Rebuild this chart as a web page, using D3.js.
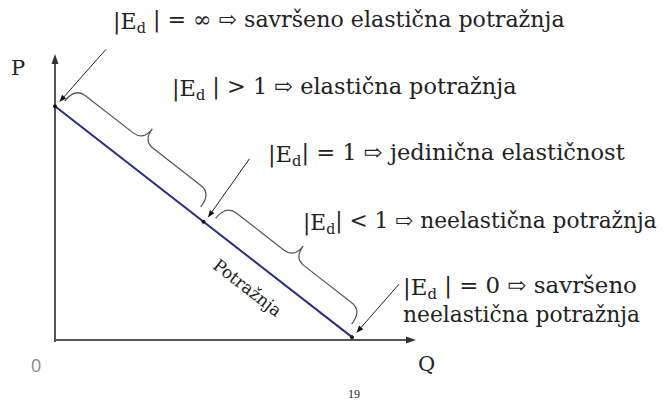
<!DOCTYPE html>
<html>
<head>
<meta charset="utf-8">
<script src="https://cdn.jsdelivr.net/npm/d3@7"></script>
<style>
  body { margin: 0; background: #fff; }
  text { font-family: "DejaVu Serif", serif; fill: #222; }
</style>
</head>
<body>
<svg id="chart"></svg>
<script>
// demand curve (Q, P)
const demandQ = [0, 82.5];
const demandP = [82, 1];

// key points along the demand line (fraction of its length)
const keyPoints = [0, 0.5, 1];
// braces along the demand line
const braceRanges = [[0.012, 0.47], [0.52, 0.978]];

// elasticity labels: "|E" + subscript + rest
const labelSub = ["d", "d", "d", "d", "d"];
const labelRest = [
  " | = ∞ ⇨ savršeno elastična potražnja",
  " | > 1 ⇨ elastična potražnja",
  "| = 1 ⇨ jedinična elastičnost",
  "| < 1 ⇨ neelastična potražnja",
  " | = 0 ⇨ savršeno"
];
const extraLine = "neelastična potražnja";
const curveLabel = "Potražnja";
const axisNames = ["P", "Q", "0"];
const pageNumber = "19";

const width = 670, height = 402;

const svg = d3.select("#chart")
  .attr("width", width)
  .attr("height", height);

const x = d3.scaleLinear().domain([0, 100]).range([55, 415]);
const y = d3.scaleLinear().domain([0, 100]).range([340, 55]);

// arrow head for the pointers
svg.append("defs").append("marker")
  .attr("id", "pointer")
  .attr("viewBox", "0 0 10 10")
  .attr("refX", 9).attr("refY", 5)
  .attr("markerWidth", 8).attr("markerHeight", 7)
  .attr("markerUnits", "userSpaceOnUse")
  .attr("orient", "auto")
  .append("path").attr("d", "M0,1L10,5L0,9z").attr("fill", "#111");

// axes
const xAxis = svg.append("g")
  .attr("transform", "translate(0," + y(0) + ")")
  .call(d3.axisBottom(x).ticks(0).tickSizeOuter(0));
xAxis.select(".domain").attr("d", "M" + x(0) + ",0H" + (x(100) - 4));
const yAxis = svg.append("g")
  .attr("transform", "translate(" + x(0) + ",0)")
  .call(d3.axisLeft(y).ticks(0).tickSizeOuter(0));
yAxis.select(".domain").attr("d", "M0," + (y(0) + 2) + "V" + (y(100) + 4));
[xAxis, yAxis].forEach(a => a.select(".domain")
  .attr("stroke", "#555")
  .attr("stroke-width", 2));

// axis arrow heads
const heads = [
  [[x(100) + 1, y(0)], [x(100) - 9, y(0) - 3.5], [x(100) - 9, y(0) + 3.5]],
  [[x(0), y(100) - 1], [x(0) - 3.5, y(100) + 9], [x(0) + 3.5, y(100) + 9]]
];
svg.selectAll("polygon.axis-head")
  .data(heads)
  .enter().append("polygon")
  .attr("class", "axis-head")
  .attr("points", d => d.map(p => p.join(",")).join(" "))
  .attr("fill", "#333");

// demand line
const demand = demandQ.map((q, i) => [x(q), y(demandP[i])]);
svg.append("path")
  .datum(demand)
  .attr("d", d3.line())
  .attr("fill", "none")
  .attr("stroke", "#2b2b8c")
  .attr("stroke-width", 2);

const p0 = demand[0], p1 = demand[1];
const len = Math.hypot(p1[0] - p0[0], p1[1] - p0[1]);
const u = [(p1[0] - p0[0]) / len, (p1[1] - p0[1]) / len];
const n = [u[1], -u[0]];   // normal pointing up-right
const at = t => [p0[0] + u[0] * len * t, p0[1] + u[1] * len * t];
const off = (p, du, dn) => [p[0] + u[0] * du + n[0] * dn, p[1] + u[1] * du + n[1] * dn];

// dots at key points
svg.selectAll("circle.key")
  .data(keyPoints)
  .enter().append("circle")
  .attr("class", "key")
  .attr("cx", t => at(t)[0])
  .attr("cy", t => at(t)[1])
  .attr("r", 2)
  .attr("fill", "#111");

// braces
function bracePath(t0, t1) {
  const e = 10, a = 27, tip = 42, r = 13;
  const A = at(t0), B = at(t1), M = at((t0 + t1) / 2);
  const p = d3.path();
  let s = off(A, 0, e); p.moveTo(s[0], s[1]);
  let c = off(A, 0, a), q = off(A, r, a); p.quadraticCurveTo(c[0], c[1], q[0], q[1]);
  q = off(M, -r, a); p.lineTo(q[0], q[1]);
  c = off(M, 0, a); q = off(M, 0, tip); p.quadraticCurveTo(c[0], c[1], q[0], q[1]);
  q = off(M, r, a); p.quadraticCurveTo(c[0], c[1], q[0], q[1]);
  q = off(B, -r, a); p.lineTo(q[0], q[1]);
  c = off(B, 0, a); q = off(B, 0, e); p.quadraticCurveTo(c[0], c[1], q[0], q[1]);
  return p.toString();
}
svg.selectAll("path.brace")
  .data(braceRanges)
  .enter().append("path")
  .attr("class", "brace")
  .attr("d", d => bracePath(d[0], d[1]))
  .attr("fill", "none")
  .attr("stroke", "#555")
  .attr("stroke-width", 1.2);

// pointer arrows towards key points
const arrowFrom = [[46, -52], [41, -58], [42, -48]];
svg.selectAll("line.pointer")
  .data(keyPoints)
  .enter().append("line")
  .attr("class", "pointer")
  .attr("x1", (t, i) => at(t)[0] + 5 + arrowFrom[i][0])
  .attr("y1", (t, i) => at(t)[1] - 5 + arrowFrom[i][1])
  .attr("x2", t => at(t)[0] + 5)
  .attr("y2", t => at(t)[1] - 5)
  .attr("stroke", "#222")
  .attr("stroke-width", 1)
  .attr("marker-end", "url(#pointer)");

// elasticity labels: [left x, baseline y, right x]
const labelPos = [[113, 29, 565], [172, 96, 517], [268, 162, 625], [303, 230, 657], [403, 295, 637]];
labelRest.forEach((rest, i) => {
  const [lx, ly, rx] = labelPos[i];
  const t = svg.append("text")
    .attr("x", lx).attr("y", ly)
    .style("font-size", "20px");
  t.append("tspan").text("|E");
  t.append("tspan").attr("dy", "0.25em").style("font-size", "0.65em").text(labelSub[i]);
  t.append("tspan").attr("dy", "-0.25em").text(rest);
  const w = t.node().getBBox().width;
  t.style("font-size", (20 * (rx - lx) / w) + "px");
});
const extra = svg.append("text")
  .attr("x", 403).attr("y", 322)
  .style("font-size", "20px")
  .text(extraLine);
extra.style("font-size", (20 * (640 - 403) / extra.node().getBBox().width) + "px");

// curve label, rotated along the line
const angle = Math.atan2(u[1], u[0]) * 180 / Math.PI;
const lp = off(at(0.7), 0, -31);
svg.append("text")
  .attr("transform", "translate(" + lp[0] + "," + lp[1] + ") rotate(" + angle + ")")
  .attr("text-anchor", "middle")
  .style("font-size", "17px")
  .text(curveLabel);

// axis names
svg.append("text").attr("x", 11).attr("y", 75).style("font-size", "21px").text(axisNames[0]);
svg.append("text").attr("x", 418).attr("y", 371).style("font-size", "21px").text(axisNames[1]);
svg.append("text").attr("x", 31).attr("y", 372)
  .style("font-family", "'Open Sans', sans-serif").style("fill", "#888")
  .style("font-size", "18px").text(axisNames[2]);

// page number
svg.append("text").attr("x", 354).attr("y", 398)
  .attr("text-anchor", "middle")
  .style("font-family", "'Liberation Serif', serif")
  .style("font-size", "12px").text(pageNumber);
</script>
</body>
</html>
